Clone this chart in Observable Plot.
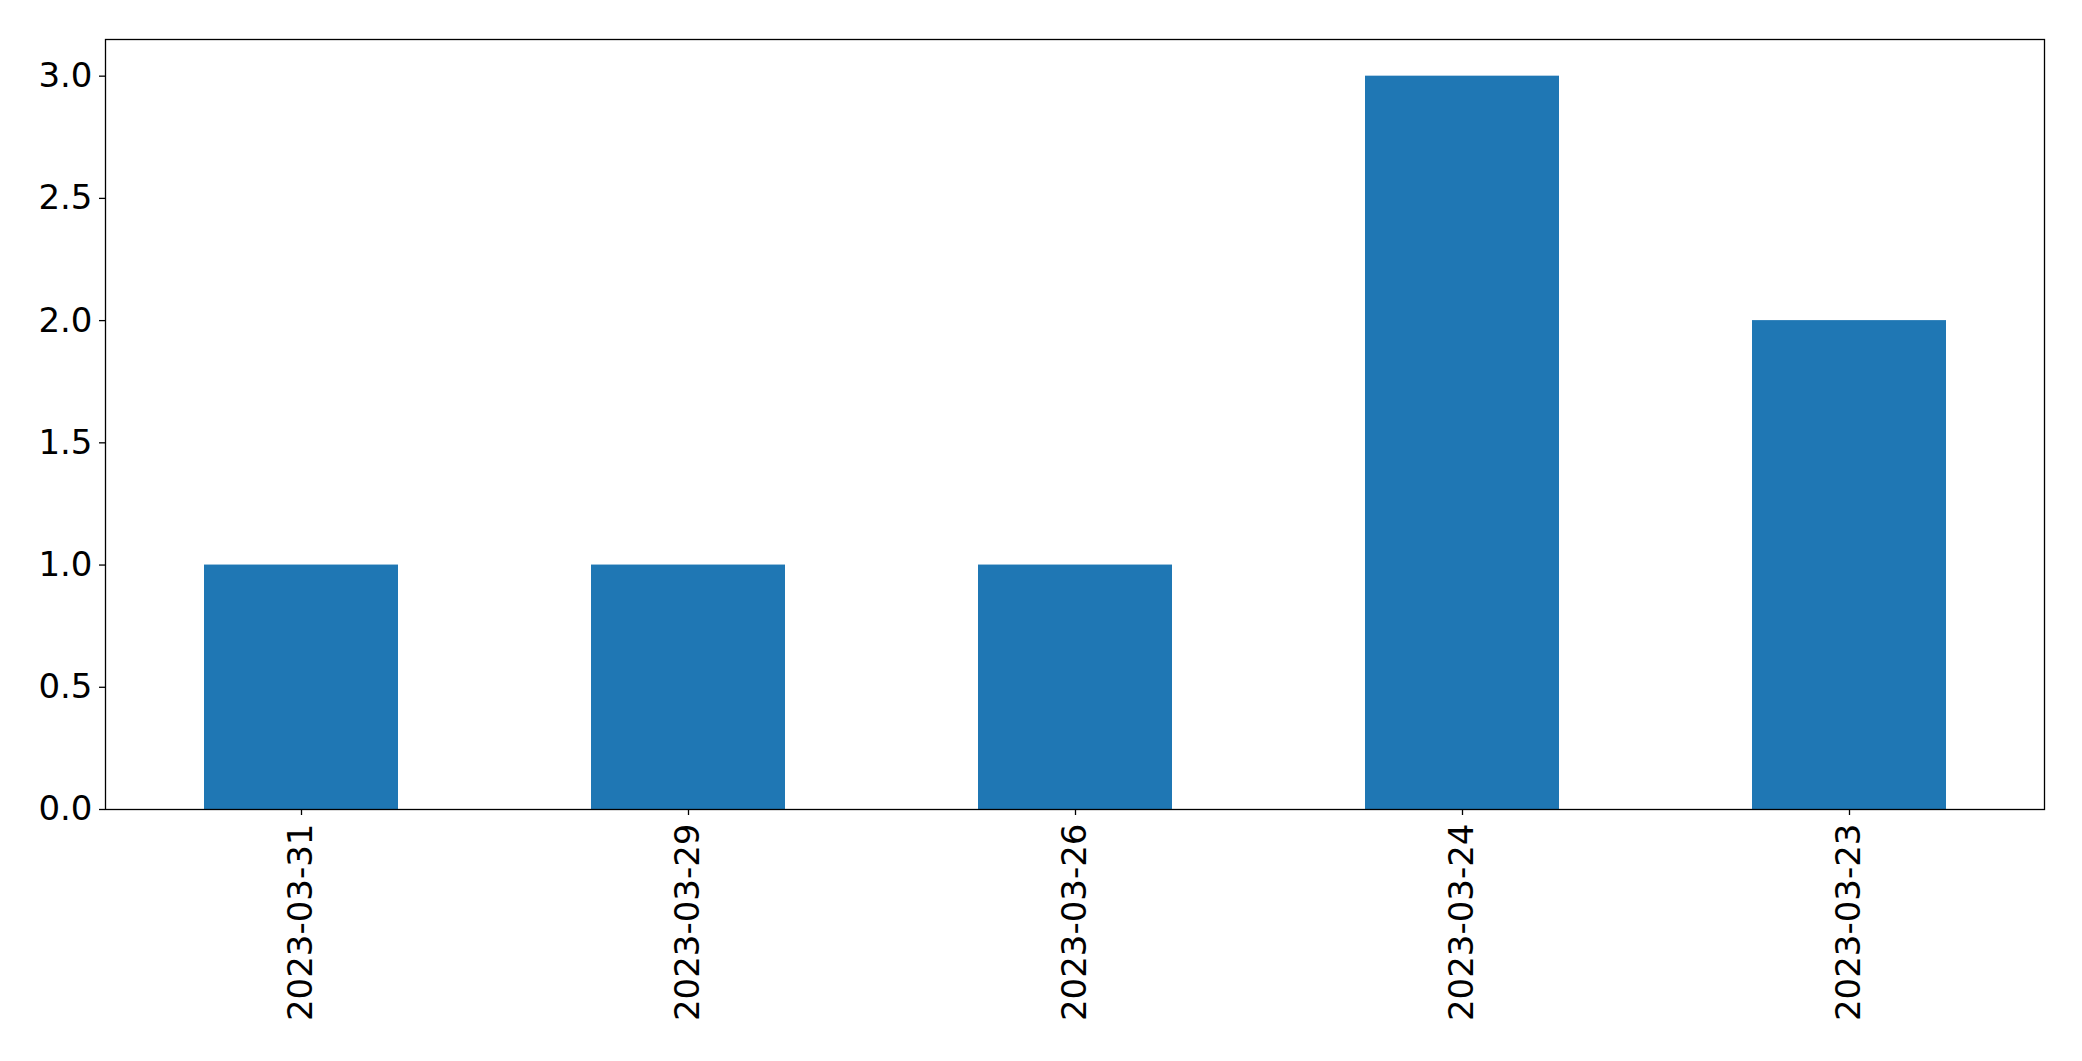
<!DOCTYPE html>
<html>
<head>
<meta charset="utf-8">
<script src="https://cdn.jsdelivr.net/npm/d3@7"></script>
<script src="https://cdn.jsdelivr.net/npm/@observablehq/plot@0.6"></script>
<style>
  html, body { margin: 0; padding: 0; background: #fff; }
  svg { display: block; }
</style>
</head>
<body>
<div id="chart"></div>
<script>
const dates = ["2023-03-31", "2023-03-29", "2023-03-26", "2023-03-24", "2023-03-23"];
const counts = [1, 1, 1, 3, 2];
const yTicks = [0, 0.5, 1.0, 1.5, 2.0, 2.5, 3.0];

const data = dates.map((d, i) => ({date: d, count: counts[i]}));

const chart = Plot.plot({
  width: 2082,
  height: 1061,
  marginLeft: 105,
  marginRight: 38,
  marginTop: 39,
  marginBottom: 252,
  style: {fontFamily: "DejaVu Sans", fontSize: "34px", color: "black", background: "white"},
  x: {domain: dates, paddingInner: 0.5, paddingOuter: 0.25, align: 0.5},
  y: {domain: [0, 3.15]},
  marks: [
    Plot.barY(data, {x: "date", y: "count", fill: "#1f77b4"}),
    Plot.axisX({tickRotate: -90, tickSize: 6, tickPadding: 8, fontSize: 34, label: null, strokeWidth: 1.3}),
    Plot.axisY({ticks: yTicks, tickFormat: d3.format(".1f"), tickSize: 6, tickPadding: 7, fontSize: 34, label: null, strokeWidth: 1.3}),
    Plot.frame({stroke: "black", strokeWidth: 1.3})
  ]
});
document.getElementById("chart").appendChild(chart);
</script>
</body>
</html>
